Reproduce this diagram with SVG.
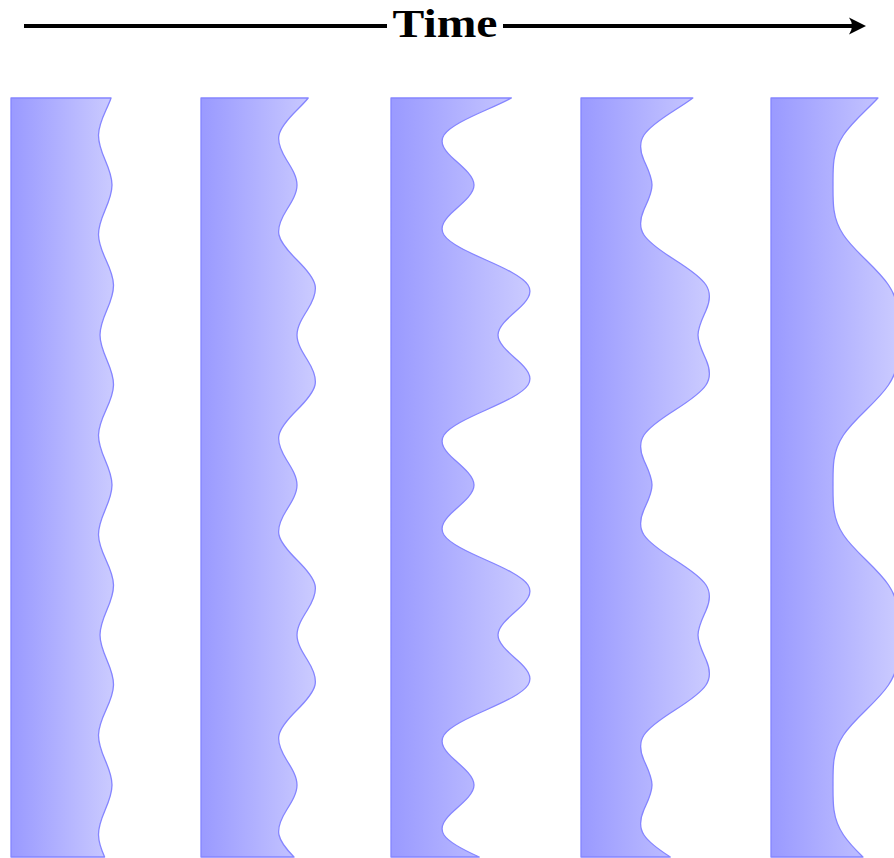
<svg xmlns="http://www.w3.org/2000/svg" width="894" height="858" viewBox="0 0 894 858">
<defs>
<linearGradient id="shade" x1="0" y1="0" x2="1" y2="0">
<stop offset="0.03" stop-color="#9b9bff"/>
<stop offset="1" stop-color="#cbcbff"/>
</linearGradient>
<style>
.panel{fill:url(#shade);stroke:#8585ff;stroke-width:1.3;stroke-linejoin:round}
.axis{stroke:#000;stroke-width:4;fill:none}
.label{font-family:"Liberation Serif","DejaVu Serif",serif;font-weight:bold;font-size:40px;fill:#000}
</style>
</defs>
<rect width="894" height="858" fill="#fff"/>
<g id="time-axis">
<path class="axis" d="M24 26 H387 M503 26 H854"/>
<path d="M866 26 L849 17.5 Q855 26 849 34.5 Z" fill="#000"/>
<text class="label" x="445" y="37" text-anchor="middle" textLength="105" lengthAdjust="spacingAndGlyphs">Time</text>
</g>
<g id="panel1">
<path class="panel" d="M11 98 L111.04 98 C109.68 102 107.84 106 106 110 C102.16 118.33 98.65 126.67 98.5 135 S101.55 151.67 105.13 160 S112 176.67 112 185 S108.71 201.67 105.13 210 S98.35 226.67 98.5 235 S102.16 251.67 106 260 S113.35 276.67 113.5 285 S110.45 301.67 106.87 310 S100 326.67 100 335 S103.29 351.67 106.87 360 S113.65 376.67 113.5 385 S109.84 401.67 106 410 S98.65 426.67 98.5 435 S101.55 451.67 105.13 460 S112 476.67 112 485 S108.71 501.67 105.13 510 S98.35 526.67 98.5 535 S102.16 551.67 106 560 S113.35 576.67 113.5 585 S110.45 601.67 106.87 610 S100 626.67 100 635 S103.29 651.67 106.87 660 S113.65 676.67 113.5 685 S109.84 701.67 106 710 S98.65 726.67 98.5 735 S101.55 751.67 105.13 760 S112 776.67 112 785 S108.71 801.67 105.13 810 S98.35 826.67 98.5 835 C98.63 842.33 101.31 849.67 104.63 857 L11 857 Z"/>
</g>
<g id="panel2">
<path class="panel" d="M201 98 L308.2 98 C305.03 102 301.02 106 297 110 C288.62 118.33 280.81 126.67 279 135 S281.37 151.67 286.61 160 S297 176.67 297 185 S291.85 201.67 286.61 210 S277.19 226.67 279 235 S288.62 251.67 297 260 S313.19 276.67 315 285 S312.63 301.67 307.39 310 S297 326.67 297 335 S302.15 351.67 307.39 360 S316.81 376.67 315 385 S305.38 401.67 297 410 S280.81 426.67 279 435 S281.37 451.67 286.61 460 S297 476.67 297 485 S291.85 501.67 286.61 510 S277.19 526.67 279 535 S288.62 551.67 297 560 S313.19 576.67 315 585 S312.63 601.67 307.39 610 S297 626.67 297 635 S302.15 651.67 307.39 660 S316.81 676.67 315 685 S305.38 701.67 297 710 S280.81 726.67 279 735 S281.37 751.67 286.61 760 S297 776.67 297 785 S291.85 801.67 286.61 810 S277.19 826.67 279 835 C280.6 842.33 286.73 849.67 294 857 L201 857 Z"/>
</g>
<g id="panel3">
<path class="panel" d="M391 98 L511.38 98 C504.06 102 495.05 106 486 110 C467.15 118.33 449.44 126.67 444 135 S445.4 151.67 454.82 160 S474 176.67 474 185 S464.25 201.67 454.82 210 S438.56 226.67 444 235 S467.15 251.67 486 260 S522.56 276.67 528 285 S526.61 301.67 517.18 310 S498 326.67 498 335 S507.76 351.67 517.18 360 S533.44 376.67 528 385 S504.85 401.67 486 410 S449.44 426.67 444 435 S445.4 451.67 454.82 460 S474 476.67 474 485 S464.25 501.67 454.82 510 S438.56 526.67 444 535 S467.15 551.67 486 560 S522.56 576.67 528 585 S526.61 601.67 517.18 610 S498 626.67 498 635 S507.76 651.67 517.18 660 S533.44 676.67 528 685 S504.85 701.67 486 710 S449.44 726.67 444 735 S445.4 751.67 454.82 760 S474 776.67 474 785 S464.25 801.67 454.82 810 S438.56 826.67 444 835 C448.79 842.33 462.86 849.67 479.24 857 L391 857 Z"/>
</g>
<g id="panel4">
<path class="panel" d="M581 98 L692.85 98 C687.55 102 681.28 106 675 110 C661.91 118.33 649.44 126.67 644 135 S640.16 151.67 643.82 160 S652 176.67 652 185 S647.49 201.67 643.82 210 S638.56 226.67 644 235 S661.91 251.67 675 260 S700.56 276.67 706 285 S709.85 301.67 706.18 310 S698 326.67 698 335 S702.52 351.67 706.18 360 S711.44 376.67 706 385 S688.09 401.67 675 410 S649.44 426.67 644 435 S640.16 451.67 643.82 460 S652 476.67 652 485 S647.49 501.67 643.82 510 S638.56 526.67 644 535 S661.91 551.67 675 560 S700.56 576.67 706 585 S709.85 601.67 706.18 610 S698 626.67 698 635 S702.52 651.67 706.18 660 S711.44 676.67 706 685 S688.09 701.67 675 710 S649.44 726.67 644 735 S640.16 751.67 643.82 760 S652 776.67 652 785 S647.49 801.67 643.82 810 S638.56 826.67 644 835 C648.79 842.33 658.9 849.67 670.3 857 L581 857 Z"/>
</g>
<g id="panel5">
<path class="panel" d="M771 98 L877.94 98 C874.2 102 870.11 106 866 110 C857.45 118.33 849.09 126.67 843.5 135 S835.09 151.67 833.96 160 S833 176.67 833 185 S832.83 201.67 833.96 210 S837.91 226.67 843.5 235 S857.45 251.67 866 260 S882.91 276.67 888.5 285 S896.91 301.67 898.04 310 S899 326.67 899 335 S899.17 351.67 898.04 360 S894.09 376.67 888.5 385 S874.55 401.67 866 410 S849.09 426.67 843.5 435 S835.09 451.67 833.96 460 S833 476.67 833 485 S832.83 501.67 833.96 510 S837.91 526.67 843.5 535 S857.45 551.67 866 560 S882.91 576.67 888.5 585 S896.91 601.67 898.04 610 S899 626.67 899 635 S899.17 651.67 898.04 660 S894.09 676.67 888.5 685 S874.55 701.67 866 710 S849.09 726.67 843.5 735 S835.09 751.67 833.96 760 S833 776.67 833 785 S832.83 801.67 833.96 810 S837.91 826.67 843.5 835 C848.42 842.33 855.45 849.67 862.93 857 L771 857 Z"/>
</g>
</svg>
